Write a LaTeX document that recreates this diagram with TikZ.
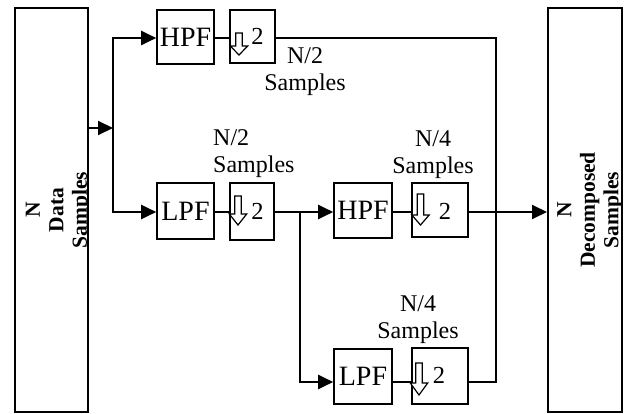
\documentclass[tikz,border=0pt]{standalone}
\usepackage{fontspec}
\setmainfont{Liberation Serif}
\usetikzlibrary{arrows.meta}

% hollow "downsample" arrow: #1 centre x, #2 shaft top, #3 head top, #4 tip
\newcommand\dsym[4]{%
  \draw[dsarrow] (#1-3.3,#2) -- (#1+3.3,#2) -- (#1+3.3,#3) -- (#1+8.7,#3)
    -- (#1,#4) -- (#1-8.7,#3) -- (#1-3.3,#3) -- cycle;}

\begin{document}
\begin{tikzpicture}[x=1pt,y=-1pt,
  block/.style={draw, line width=1.6pt, inner sep=0pt, font=\fontsize{28}{32}\selectfont},
  outerbox/.style={draw, line width=2pt, inner sep=0pt},
  main/.style={line width=2pt},
  link/.style={line width=1.3pt},
  arr/.style={-{Triangle[length=15pt,width=14pt]}},
  lbl/.style={font=\fontsize{24}{27}\selectfont, align=center, inner sep=0pt},
  side/.style={font=\bfseries\fontsize{21.5}{23.5}\selectfont, align=center, rotate=90, inner sep=0pt},
  two/.style={font=\fontsize{24.5}{28}\selectfont, inner sep=0pt},
  dsarrow/.style={draw, fill=white, line width=1.2pt, line join=miter}
]
\useasboundingbox (0,0) rectangle (627,414);

% input and output columns
\begin{scope}
  \clip (15,8) rectangle (88,412);
  \node[side] (srcText) at (58.5,210) {N\\Data\\Samples};
\end{scope}
\node[outerbox, minimum width=73pt, minimum height=404pt] (src) at (51.5,210) {};
\begin{scope}
  \clip (548,8) rectangle (622,412);
  \node[side] (dstText) at (590,210) {N\\Decomposed\\Samples};
\end{scope}
\node[outerbox, minimum width=74pt, minimum height=404pt] (dst) at (585,210) {};

% filter and downsampling blocks
\node[block, minimum width=57pt, minimum height=54pt] (hpfA) at (185.5,37) {HPF};
\node[block, minimum width=45pt, minimum height=53pt] (dsA) at (252.5,36.5) {};
\node[block, minimum width=57pt, minimum height=56pt] (lpfA) at (185.5,211) {LPF};
\node[block, minimum width=44pt, minimum height=57pt] (dsB) at (252,211.5) {};
\node[block, minimum width=58pt, minimum height=55pt] (hpfB) at (363,210.5) {HPF};
\node[block, minimum width=56pt, minimum height=54pt] (dsC) at (440,210) {};
\node[block, minimum width=58pt, minimum height=55pt] (lpfB) at (363,376.5) {LPF};
\node[block, minimum width=56pt, minimum height=56pt] (dsD) at (440,376) {};

% routing levels
\coordinate (yTop) at (0,38);
\coordinate (yMid) at (0,212);
\coordinate (yBot) at (0,382);
\coordinate (split) at (113,128);
\coordinate (branch) at (300,212);
\coordinate (bus) at (496,382);

% connectors
\draw[main, arr] (src.east |- split) -- (split);
\draw[main, arr] (split) |- (hpfA.west |- yTop);
\draw[main, arr] (split) |- (lpfA.west |- yMid);
\draw[link] (hpfA.east |- yTop) -- (dsA.west |- yTop);
\draw[main] (dsA.east |- yTop) -| (bus) -- (dsD.east |- yBot);
\draw[link] (lpfA.east |- yMid) -- (dsB.west |- yMid);
\draw[main, arr] (dsB.east |- yMid) -- (hpfB.west |- yMid);
\draw[main, arr] (branch) |- (lpfB.west |- yBot);
\draw[link] (hpfB.east |- yMid) -- (dsC.west |- yMid);
\draw[link] (lpfB.east |- yBot) -- (dsD.west |- yBot);
\draw[main, arr] (dsC.east |- yMid) -- (dst.west |- yMid);

% downsampling symbols
\dsym{239}{33}{46}{55}
\dsym{238}{196}{214}{225}
\dsym{420.5}{194}{215}{225}
\dsym{419}{363}{383}{395}
\node[two] (twoA) at (257.5,36) {2};
\node[two] (twoB) at (257.5,211) {2};
\node[two] (twoC) at (445,211) {2};
\node[two] (twoD) at (439,375) {2};

% sample-count labels
\node[lbl] (labA) at (305,72) {N/2\\Samples};
\node[lbl, align=left, anchor=west] (labB) at (213,154) {N/2\\Samples};
\node[lbl] (labC) at (433,155) {N/4\\Samples};
\node[lbl] (labD) at (418,320) {N/4\\Samples};
\end{tikzpicture}
\end{document}
